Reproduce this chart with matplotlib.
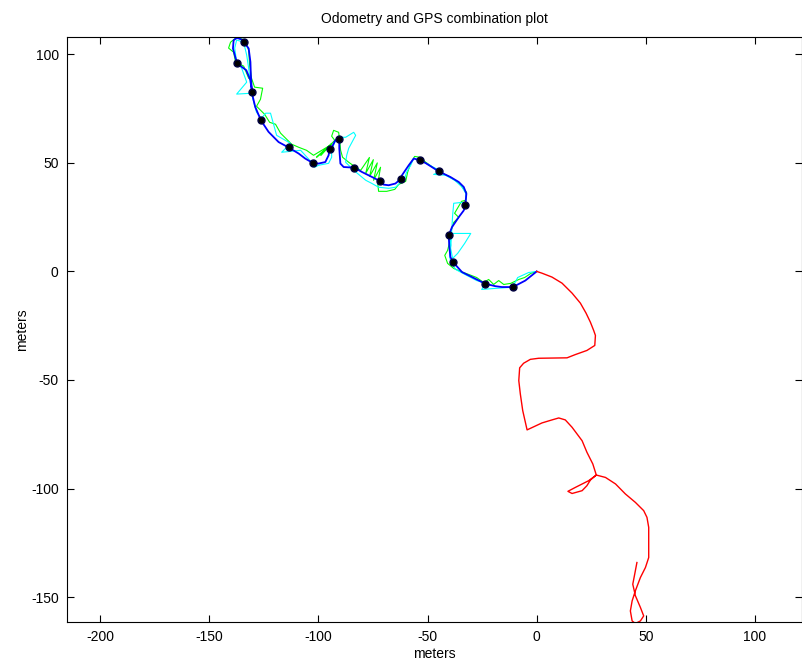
import matplotlib
matplotlib.use("Agg")
import matplotlib.pyplot as plt

plt.rcParams['font.family'] = ['Liberation Sans', 'DejaVu Sans']
plt.rcParams['axes.unicode_minus'] = False

# GPS-only track (red)
red_x = [0, 2.4, 7.0, 11.6, 16.2, 20.0, 22.6, 24.6, 26.1, 26.9, 26.6, 23.0, 17.7, 13.9, 0.9, -2.9, -6.0,
         -7.8, -8.2, -7.5, -6.4, -4.4, 2.4, 7.0, 10.1, 13.1, 16.2, 18.5, 20.8, 23.0, 25.7, 27.3, 23.8,
         17.7, 14.3, 16.2, 20.8, 23.0, 24.6, 27.3, 31.5, 36.1, 40.6, 45.2, 49.0, 50.5, 51.3, 51.3, 49.8,
         47.5, 45.2, 43.7, 42.9, 43.7, 45.2, 47.5, 49.0, 47.5, 45.2, 44.0, 44.9, 45.9]
red_y = [0, -0.8, -2.6, -5.4, -10.0, -14.6, -19.2, -23.4, -27.2, -29.5, -34.1, -36.4, -38.3, -39.8,
         -40.0, -40.5, -42.3, -44.4, -50.3, -56.4, -64.1, -73.0, -69.8, -68.4, -67.5, -68.4, -71.8,
         -74.9, -78.0, -83.3, -88.7, -93.8, -96.4, -99.5, -101.3, -102.3, -101.0, -98.7, -96.1, -93.8,
         -94.9, -97.9, -102.5, -106.4, -110.2, -113.3, -117.9, -131.8, -136.4, -141.0, -147.1, -151.8,
         -156.4, -161.0, -162.2, -161.0, -158.7, -154.8, -149.4, -144.1, -139.4, -134.1]

# Odometry track (green)
green_x = [0, -2.7, -5.5, -8.2, -11.9, -15.1, -17.4, -19.7, -22.0, -24.3, -27.5, -31.1, -34.8, -38.0,
           -40.8, -42.1, -40.8, -39.9, -39.4, -38.0, -35.7, -37.6, -34.4, -32.5, -32.1, -34.4, -36.6,
           -40.3, -44.0, -47.6, -50.8, -53.6, -55.9, -57.7, -59.1, -60.0, -63.2, -65.0, -68.7, -72.4,
           -72.8, -71.5, -74.7, -73.0, -76.5, -74.8, -78.3, -76.6, -80.6, -82.9, -86.1, -88.9, -89.8,
           -90.2, -90.7, -93.0, -93.9, -92.5, -98.9, -93.9, -100.8, -95.3, -102.2, -105.4, -109.0,
           -112.2, -115.0, -117.3, -119.6, -122.3, -124.6, -128.3, -126.5, -125.5, -129.2, -130.6,
           -131.5, -131.9, -133.7, -137.4, -140.2, -141.1, -138.8, -137.9, -134.2, -131.9]
green_y = [0, -0.9, -2.8, -3.7, -5.5, -6.0, -4.2, -6.0, -3.7, -5.1, -2.8, -1.4, 0, 1.4, 3.7, 7.4, 9.7,
           13.4, 18.0, 22.6, 24.9, 26.8, 32.3, 32.8, 36.4, 39.2, 41.5, 43.8, 45.7, 48.0, 50.3, 52.6,
           53.0, 49.8, 45.7, 41.5, 40.1, 37.8, 36.9, 36.9, 40.6, 48.0, 42.0, 50.0, 43.8, 51.5, 45.2,
           52.5, 46.6, 48.0, 50.3, 52.6, 55.8, 60.4, 64.1, 65.0, 62.3, 60.4, 53.5, 59.0, 52.6, 57.7,
           53.5, 55.8, 57.2, 58.6, 61.4, 63.7, 67.8, 68.7, 72.4, 76.1, 79.3, 84.4, 84.9, 89.0, 95.5,
           101.9, 106.6, 107.9, 105.6, 102.9, 101.0, 96.4, 94.6, 89.0]

# Raw GPS track (cyan)
cyan_x = [0, -3.7, -8.7, -10.1, -12.8, -18.8, -25.2, -23.4, -27.5, -32.1, -37.1, -39.4, -39.9, -39.4,
          -39.9, -30.2, -33.0, -36.2, -38.5, -39.4, -38.9, -38.5, -38.0, -34.4, -32.5, -32.5, -34.4,
          -37.6, -41.7, -47.2, -43.5, -48.1, -53.1, -56.3, -57.7, -59.6, -60.9, -62.3, -64.6, -67.8,
          -72.4, -75.6, -78.3, -83.8, -87.5, -87.0, -86.1, -82.9, -83.8, -87.5, -89.8, -92.5, -93.9,
          -93.9, -95.3, -99.9, -101.7, -103.1, -108.1, -116.8, -112.7, -119.1, -121.9, -124.1, -126.0,
          -128.3, -129.6, -130.6, -137.4, -132.8, -135.1, -137.4, -138.3, -137.4, -134.2, -132.8,
          -131.9, -131.0]
cyan_y = [0, -0.5, -2.8, -5.5, -7.4, -7.8, -8.3, -5.5, -4.2, -1.8, 0.9, 4.2, 7.4, 12.0, 17.5, 17.5,
          12.9, 8.3, 6.0, 10.6, 18.9, 25.8, 31.4, 31.8, 31.4, 36.0, 39.2, 42.0, 44.3, 44.7, 46.1, 48.4,
          51.2, 52.1, 48.9, 45.7, 41.5, 41.1, 38.8, 38.3, 38.8, 40.6, 42.0, 46.6, 50.3, 53.5, 56.7,
          62.7, 64.1, 61.8, 61.8, 59.5, 55.8, 52.6, 49.8, 48.9, 48.0, 50.3, 55.8, 54.9, 59.0, 62.7,
          72.9, 72.9, 70.6, 73.3, 78.0, 82.1, 81.7, 87.2, 93.6, 96.4, 102.9, 106.6, 105.6, 99.6, 93.6,
          85.8]

# Combined estimate (blue)
blue_x = [0, -5.2, -10.9, -15.9, -18.9, -23.5, -29.6, -34.2, -38.3, -39.5, -40.0, -40.3, -38.8, -35.7,
          -33.4, -32.7, -32.2, -33.4, -35.7, -39.5, -44.9, -48.0, -51.0, -53.6, -56.3, -58.6, -61.7,
          -62.0, -64.7, -67.8, -70.1, -71.9, -75.4, -80.0, -83.5, -88.4, -89.9, -90.4, -90.4, -90.7,
          -92.2, -93.8, -94.8, -95.3, -96.8, -99.9, -102.6, -106.0, -109.0, -113.6, -118.2, -122.8,
          -126.3, -128.9, -130.0, -130.4, -130.9, -131.1, -131.9, -133.9, -134.2, -137.3, -138.8,
          -139.1, -137.3, -135.0, -133.0, -131.1, -130.4]
blue_y = [0, -4.2, -7.2, -7.2, -6.8, -5.7, -2.6, -0.3, 4.3, 6.6, 11.2, 16.6, 20.4, 25.0, 28.1, 30.4,
          35.8, 38.9, 41.2, 43.5, 46.1, 48.1, 50.0, 51.2, 52.0, 48.9, 44.3, 42.8, 40.5, 39.7, 40.0, 41.7,
          43.5, 45.8, 47.8, 48.1, 49.7, 56.6, 60.4, 61.2, 60.4, 57.3, 56.6, 53.5, 50.4, 49.7, 50.0, 52.0,
          54.3, 57.1, 59.6, 64.3, 69.6, 75.8, 80.4, 82.7, 90.4, 96.5, 102.7, 105.5, 106.5, 107.6, 106.5,
          102.7, 96.1, 94.2, 92.7, 88.1, 82.7]

# GPS fix points (black dots)
dots_x = [-10.9, -23.5, -38.3, -40.3, -32.7, -44.9, -53.6, -62.0, -71.9, -83.5, -90.7, -94.8, -102.6,
          -113.6, -126.3, -130.4, -133.9, -137.3]
dots_y = [-7.2, -5.7, 4.3, 16.6, 30.4, 46.1, 51.2, 42.8, 41.7, 47.8, 61.2, 56.6, 50.0, 57.1, 69.6,
          82.7, 105.5, 96.1]

x_ticks = [-200, -150, -100, -50, 0, 50, 100]
y_ticks = [-150, -100, -50, 0, 50, 100]

fig = plt.figure(figsize=(8.03, 6.65), dpi=100)
ax = fig.add_axes([67 / 803, 43 / 665, 735 / 803, 585 / 665])

ax.plot(green_x, green_y, color='#00ff00', lw=0.8)
ax.plot(cyan_x, cyan_y, color='#00ffff', lw=0.8)
ax.plot(blue_x, blue_y, color='#0000ff', lw=1.3)
ax.plot(dots_x, dots_y, 'o', color='#000000', mec='#000040', ms=5, ls='none')
ax.plot(red_x, red_y, color='#ff0000', lw=1.0)

ax.set_xlim(-215.1, 121.5)
ax.set_ylim(-161.5, 108.0)
ax.set_xticks(x_ticks)
ax.set_yticks(y_ticks)
ax.tick_params(direction='in', length=5, width=0.8, top=True, right=True, labelsize=10, pad=6)
for s in ax.spines.values():
    s.set_linewidth(0.8)

ax.set_title('Odometry and GPS combination plot', fontsize=10, pad=10)
ax.set_xlabel('meters', fontsize=10, labelpad=2)
ax.set_ylabel('meters', fontsize=10, labelpad=1)

fig.savefig('out.png', dpi=100)
